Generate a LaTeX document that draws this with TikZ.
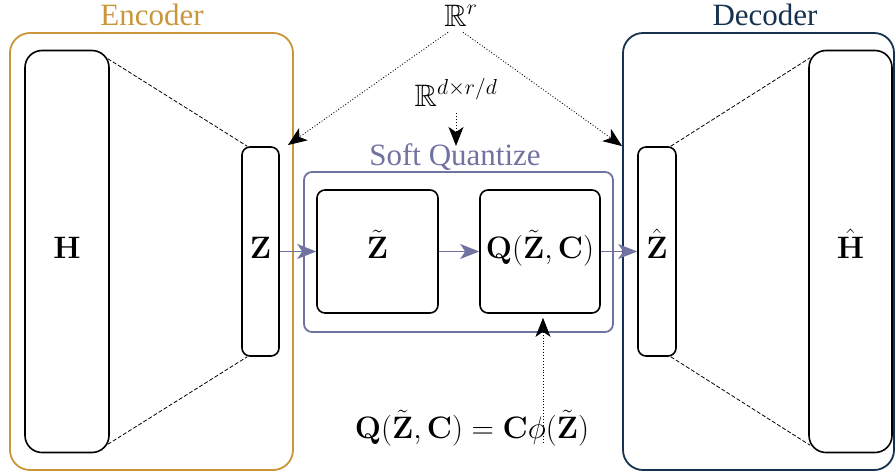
\documentclass[tikz,border=0pt]{standalone}
\usepackage{amsmath,amssymb}
\usepackage[no-math]{fontspec}
\setmainfont{Liberation Serif}
\DeclareFontShape{OT1}{cmr}{bx}{n}{<-6>cmbx5<6-7>cmbx6<7-8>cmbx7<8-9>cmbx8<9-10>cmbx9<10-12>cmbx10<12->cmbx12}{}
\DeclareFontShape{OT1}{cmr}{m}{n}{<-6>cmr5<6-7>cmr6<7-8>cmr7<8-9>cmr8<9-10>cmr9<10-12>cmr10<12-17>cmr12<17->cmr17}{}
\DeclareFontShape{OML}{cmm}{m}{it}{<-6>cmmi5<6-7>cmmi6<7-8>cmmi7<8-9>cmmi8<9-10>cmmi9<10-12>cmmi10<12->cmmi12}{}
\DeclareFontShape{OMS}{cmsy}{m}{n}{<-6>cmsy5<6-7>cmsy6<7-8>cmsy7<8-9>cmsy8<9-10>cmsy9<10->cmsy10}{}
\DeclareFontShape{OMX}{cmex}{m}{n}{<->cmex10}{}
\DeclareFontFamily{U}{msb}{}
\DeclareFontShape{U}{msb}{m}{n}{<-6>msbm5<6-8>msbm7<8->msbm10}{}
\usetikzlibrary{arrows.meta,calc}
\definecolor{encgold}{RGB}{201,150,58}
\definecolor{decnavy}{RGB}{22,50,78}
\definecolor{sqblue}{RGB}{112,115,160}
\begin{document}
\begin{tikzpicture}[x=1pt,y=-1pt,
  every node/.style={font=\fontsize{31}{37}\selectfont},
  frame/.style={draw, line width=1.8pt, inner sep=0pt},
  block/.style={draw, line width=1.6pt, inner sep=0pt, text height=20pt, text depth=7pt},
  lbl/.style={anchor=base, inner sep=0pt},
  dashline/.style={line width=0.8pt, dash pattern=on 4pt off 2pt},
  tipstyle/.style={-{Stealth[length=19pt,width=15pt,inset=5pt]}},
  dotarrow/.style={line width=0.9pt, dotted, tipstyle},
  flowarrow/.style={draw=sqblue, line width=1.2pt, tipstyle}
]
\useasboundingbox (0,0) rectangle (896,474);

% frames
\node[frame, draw=encgold, rounded corners=20pt, minimum width=283pt, minimum height=437pt] (enc) at (151.5,251.5) {};
\node[frame, draw=decnavy, rounded corners=20pt, minimum width=271pt, minimum height=437pt] (dec) at (758.5,251.5) {};
\node[frame, draw=sqblue, rounded corners=8pt, minimum width=309pt, minimum height=160pt] (sq) at (458.5,252) {};

% frame labels
\node[lbl, text=encgold] (enclabel) at (152,25) {Encoder};
\node[lbl, text=decnavy] (declabel) at (765,25) {Decoder};
\node[lbl, text=sqblue] (sqlabel) at (455,165) {Soft Quantize};

% blocks
\node[block, rounded corners=17pt, minimum width=84pt, minimum height=402pt] (H) at (67,251.5) {$\mathbf{H}$};
\node[block, rounded corners=8pt, minimum width=37pt, minimum height=209pt] (Z) at (260.5,251.5) {$\mathbf{Z}$};
\node[block, rounded corners=8pt, minimum width=38pt, minimum height=209pt] (Zh) at (657,251.5) {$\hat{\mathbf{Z}}$};
\node[block, rounded corners=17pt, minimum width=83pt, minimum height=402pt] (Hh) at (850.5,251.5) {$\hat{\mathbf{H}}$};
\node[block, rounded corners=8pt, minimum width=121pt, minimum height=123pt] (Zt) at (377.5,251.5) {$\tilde{\mathbf{Z}}$};
\node[block, rounded corners=8pt, minimum width=120pt, minimum height=123pt] (Q) at (540,251.5) {$\mathbf{Q}(\tilde{\mathbf{Z}},\mathbf{C})$};

% other labels
\node[lbl] (Rr) at (461,26) {$\mathbb{R}^r$};
\node[lbl] (Rd) at (456,106) {$\mathbb{R}^{d\times r/d}$};
\node[lbl] (eq) at (472,438) {$\mathbf{Q}(\tilde{\mathbf{Z}},\mathbf{C})=\mathbf{C}\phi(\tilde{\mathbf{Z}})$};

% dashed projections
\draw[dashline] ($(H.north east)+(-2,9)$) -- ($(Z.north west)+(6,0)$);
\draw[dashline] ($(H.south east)+(-2,-9)$) -- ($(Z.south west)+(6,0)$);
\draw[dashline] ($(Zh.north east)+(-6,0)$) -- ($(Hh.north west)+(2,8)$);
\draw[dashline] ($(Zh.south east)+(-6,0)$) -- ($(Hh.south west)+(2,-8)$);

% flow arrows
\draw[flowarrow] (Z.east) -- (Zt.west);
\draw[flowarrow] (Zt.east) -- (Q.west);
\draw[flowarrow] (Q.east) -- (Zh.west);

% dotted arrows
\draw[dotarrow] ($(Rr.south)+(-13,6)$) -- ($(enc.north east)+(-6,113)$);
\draw[dotarrow] ($(Rr.south)+(2,6)$) -- ($(dec.north west)+(0,114)$);
\draw[dotarrow] ($(Rd.south)+(0,7)$) -- ($(sqlabel.north)+(1,3)$);
\draw[dotarrow] ($(Q.south |- eq.south)+(3,-3)$) -- ($(Q.south)+(3,4)$);
\end{tikzpicture}
\end{document}
